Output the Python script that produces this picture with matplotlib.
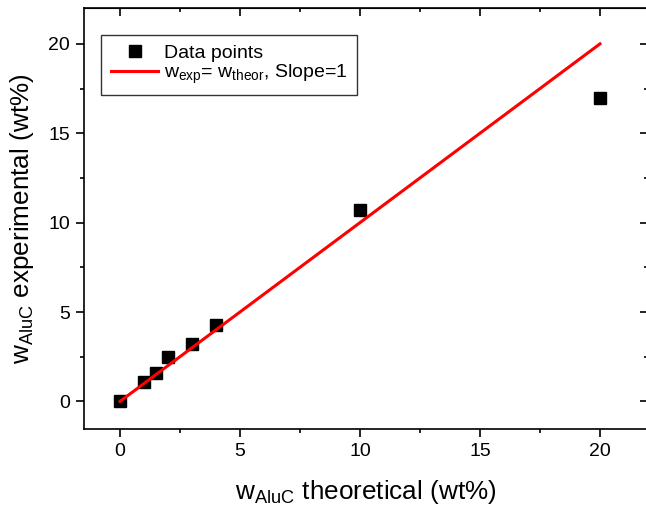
import matplotlib
matplotlib.use("Agg")
import matplotlib.pyplot as plt
from matplotlib.ticker import MultipleLocator, NullFormatter

plt.rcParams['font.family'] = ['Liberation Sans', 'DejaVu Sans']
plt.rcParams['mathtext.fontset'] = 'custom'
plt.rcParams['mathtext.rm'] = 'Liberation Sans'
plt.rcParams['mathtext.it'] = 'Liberation Sans'

# data
w_theor = [0, 1, 1.5, 2, 3, 4, 10, 20]
w_exp = [0, 1.1, 1.6, 2.5, 3.2, 4.3, 10.7, 17.0]
line_x = [0, 20]
line_y = [0, 20]

fig = plt.figure(figsize=(6.46, 5.09), dpi=100)
ax = fig.add_axes([0.130, 0.157, 0.873, 0.827])

ax.plot(w_theor, w_exp, 's', color='black', markersize=9, label='Data points', zorder=3)
ax.plot(line_x, line_y, '-', color='red', linewidth=2.2,
        label=r'w$_{\mathrm{exp}}$= w$_{\mathrm{theor}}$, Slope=1', zorder=4)

ax.set_xlim(-1.5, 22)
ax.set_ylim(-1.55, 22)
for a in (ax.xaxis, ax.yaxis):
    a.set_major_locator(MultipleLocator(5))
    a.set_minor_locator(MultipleLocator(2.5))

ax.tick_params(which='both', direction='out', labelsize=14, width=1.2, pad=4)
ax.tick_params(which='major', length=6)
ax.tick_params(which='minor', length=3)
for sp in ax.spines.values():
    sp.set_linewidth(1.2)

# top and right ticks point inward, no labels
top = ax.secondary_xaxis('top')
right = ax.secondary_yaxis('right')
for sec, a in ((top, top.xaxis), (right, right.yaxis)):
    a.set_major_locator(MultipleLocator(5))
    a.set_minor_locator(MultipleLocator(2.5))
    a.set_major_formatter(NullFormatter())
    a.set_minor_formatter(NullFormatter())
    sec.tick_params(which='both', direction='in', width=1.2)
    sec.tick_params(which='major', length=6)
    sec.tick_params(which='minor', length=3)

ax.set_xlabel(r'w$_{\mathrm{AluC}}$ theoretical (wt%)', fontsize=18.8, labelpad=13)
ax.set_ylabel(r'w$_{\mathrm{AluC}}$ experimental (wt%)', fontsize=18.8, labelpad=9)

leg = ax.legend(loc='upper left', bbox_to_anchor=(0.031, 0.937), fontsize=14,
                frameon=True, fancybox=False, edgecolor='black',
                handlelength=2.4, handletextpad=0.3, borderpad=0.5,
                labelspacing=0.02, borderaxespad=0)
leg.get_frame().set_linewidth(1.0)

fig.savefig('out.png', dpi=100)
